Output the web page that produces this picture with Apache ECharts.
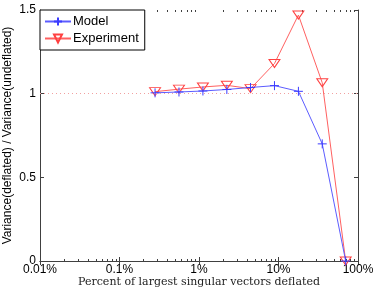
<!DOCTYPE html>
<html><head><meta charset="utf-8">
<script src="https://cdn.jsdelivr.net/npm/echarts@6/dist/echarts.min.js"></script>
<style>html,body{margin:0;padding:0;background:#fff}#c{width:374px;height:291px}</style>
</head><body><div id="c"></div>
<script>
var percents = [0.28, 0.56, 1.12, 2.24, 4.45, 8.9, 17.8, 35.5, 70];
var modelValues = [1.005, 1.01, 1.016, 1.025, 1.037, 1.048, 1.014, 0.70, 0];
var experimentValues = [1.012, 1.027, 1.04, 1.05, 1.03, 1.18, 1.47, 1.065, 0];
var xTicks = [0.01, 0.1, 1, 10, 100];
var yTicks = [0, 0.5, 1, 1.5];

var minorTicks = [];
for (var d = -2; d <= 1; d++) for (var k = 2; k <= 9; k++) minorTicks.push([k * Math.pow(10, d)]);

var axisColor = '#404040';
var font = 'Liberation Sans';
var chart = echarts.init(document.getElementById('c'));
function pairs(vals){ return percents.map(function(p,i){ return [p, vals[i]]; }); }
chart.setOption({
  animation: false,
  grid: {left: 40, right: 16, top: 10, bottom: 30, containLabel: false, outerBoundsMode: 'none'},
  legend: {
    left: 40, top: 10, orient: 'vertical', itemGap: 4, padding: [5, 6, 5, 4],
    borderColor: '#000', borderWidth: 1, backgroundColor: '#fff',
    itemWidth: 26, itemHeight: 10,
    textStyle: {fontFamily: font, fontSize: 13, color: '#000', padding: [0,0,0,-3]},
    data: ['Model', 'Experiment']
  },
  xAxis: [{
    type: 'log', logBase: 10, min: 0.01, max: 100,
    name: 'Percent of largest singular vectors deflated', nameLocation: 'middle', nameGap: 16,
    nameMoveOverlap: false,
    nameTextStyle: {fontFamily: 'DejaVu Serif', fontSize: 11, color: '#222'},
    axisLine: {show: true, lineStyle: {color: axisColor}},
    axisTick: {inside: true, length: 4, lineStyle: {color: axisColor}},
    axisLabel: {fontFamily: font, fontSize: 12, color: '#000', margin: 3,
      formatter: function(v){ return (+v.toPrecision(3)) + '%'; }},
    splitLine: {show: false}
  }, {
    type: 'log', logBase: 10, min: 0.01, max: 100, position: 'top',
    axisLine: {show: true, lineStyle: {color: axisColor}},
    axisTick: {inside: true, length: 4, lineStyle: {color: axisColor}},
    axisLabel: {show: false}, splitLine: {show: false}
  }],
  yAxis: [{
    type: 'value', min: 0, max: 1.5, interval: 0.5,
    name: 'Variance(deflated) / Variance(undeflated)', nameLocation: 'middle', nameGap: 26,
    nameMoveOverlap: false,
    nameTextStyle: {fontFamily: font, fontSize: 12, color: '#000'},
    axisLine: {show: true, lineStyle: {color: axisColor}},
    axisTick: {inside: true, length: 4, lineStyle: {color: axisColor}},
    axisLabel: {fontFamily: font, fontSize: 12, color: '#000', margin: 4,
      formatter: function(v){ return String(v); }},
    splitLine: {show: false}
  }, {
    type: 'value', min: 0, max: 1.5, interval: 0.5, position: 'right',
    axisLine: {show: true, lineStyle: {color: axisColor}},
    axisTick: {inside: true, length: 4, lineStyle: {color: axisColor}},
    axisLabel: {show: false}, splitLine: {show: false}
  }],
  series: [{
    type: 'custom', silent: true, xAxisIndex: 0, yAxisIndex: 0,
    data: minorTicks,
    renderItem: function(params, api){
      var b = api.coord([api.value(0), 0]);
      var t = api.coord([api.value(0), 1.5]);
      var st = {stroke: axisColor, lineWidth: 1};
      return {type: 'group', children: [
        {type: 'line', shape: {x1: Math.round(b[0])+0.5, y1: b[1], x2: Math.round(b[0])+0.5, y2: b[1]-2}, style: st},
        {type: 'line', shape: {x1: Math.round(t[0])+0.5, y1: t[1], x2: Math.round(t[0])+0.5, y2: t[1]+2}, style: st}
      ]};
    }
  }, {
    name: 'Model', type: 'line', data: pairs(modelValues),
    symbol: 'path://M0,5L10,5M5,0L5,10', symbolSize: 9,
    lineStyle: {color: '#5c5cff', width: 1},
    itemStyle: {color: 'transparent', borderColor: '#3c3cff', borderWidth: 1},
    markLine: {silent: true, symbol: 'none', label: {show: false},
      lineStyle: {color: '#f2a0a0', type: [1, 3], width: 1},
      data: [{yAxis: 1}]},
    z: 3
  }, {
    name: 'Experiment', type: 'line', data: pairs(experimentValues),
    symbol: 'path://M0,0L10,0L5,8Z', symbolSize: [11, 8],
    lineStyle: {color: '#ff6060', width: 1},
    itemStyle: {color: 'transparent', borderColor: '#ff4040', borderWidth: 1},
    z: 2
  }]
});
</script></body></html>
